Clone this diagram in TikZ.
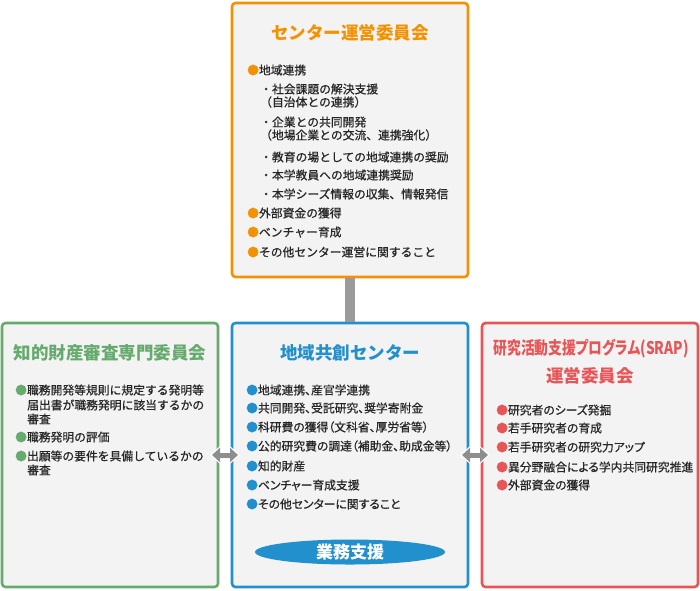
\documentclass[tikz,border=0pt]{standalone}
\usepackage{fontspec}
\usepackage{graphicx}
\setmainfont{Noto Sans CJK JP}
\newfontfamily\jpr[FakeBold=0.6]{Noto Sans CJK JP}
\newfontfamily\jpp[RawFeature=+palt,FakeBold=0.6]{Noto Sans CJK JP}
\newfontfamily\jpt[RawFeature=+palt]{Noto Sans CJK JP}
\usetikzlibrary{arrows.meta,shapes.geometric}
\definecolor{cOr}{HTML}{F39200}
\definecolor{cGr}{HTML}{66AA6E}
\definecolor{cBl}{HTML}{2290CC}
\definecolor{cRd}{HTML}{E85557}
\definecolor{cFill}{HTML}{F3F3F3}
\definecolor{cTxt}{HTML}{262626}
\definecolor{cArr}{HTML}{8E8E8E}
\definecolor{cBar}{HTML}{9A9A9A}
\tikzset{
  panel/.style={draw=#1, line width=2.6pt, fill=cFill, rounded corners=3.5pt, inner sep=0pt, outer sep=0pt},
  ttl/.style={text=#1, font=\fontsize{17.5}{20}\selectfont\bfseries, inner sep=0pt},
  item/.style={anchor=west, inner sep=0pt, text height=10.4pt, text depth=1.4pt, text=cTxt, font=\fontsize{11.8}{14}\selectfont\jpr},
  pitem/.style={item, font=\fontsize{11.8}{14}\selectfont\jpp},
  bar/.style={draw=cBar, line width=10pt, shorten <=1.3pt, shorten >=1.3pt},
  dbl/.style={draw=cArr, line width=5pt,
     {Triangle[length=8pt,width=14pt]}-{Triangle[length=8pt,width=14pt]},
     shorten <=-6pt, shorten >=-6pt,
     preaction={draw=white, line width=7.5pt,
       {Triangle[length=10.5pt,width=18pt]}-{Triangle[length=10.5pt,width=18pt]},
       shorten <=-8pt, shorten >=-8pt}},
  oval/.style={ellipse, fill=cBl, minimum width=190pt, minimum height=25pt, inner sep=0pt, text=white, font=\fontsize{17}{20}\selectfont\bfseries},
}
\newcommand{\bO}{\textcolor{cOr}{●}}
\newcommand{\bG}{\textcolor{cGr}{●}}
\newcommand{\bB}{\textcolor{cBl}{●}}
\newcommand{\bR}{\textcolor{cRd}{●}}
\begin{document}
\begin{tikzpicture}[x=1pt,y=-1pt]
\useasboundingbox (0,0) rectangle (700,590);
% panels
\node[panel=cOr, minimum width=236pt, minimum height=274pt] (top) at (350,140) {};
\node[panel=cGr, minimum width=216pt, minimum height=264pt] (lft) at (110,455) {};
\node[panel=cBl, minimum width=236pt, minimum height=264pt] (ctr) at (350,455) {};
\node[panel=cRd, minimum width=216pt, minimum height=264pt] (rgt) at (590,455) {};
% connectors
\draw[bar] (top.south) -- (ctr.north);
\draw[dbl] (lft.east) -- (ctr.west);
\draw[dbl] (ctr.east) -- (rgt.west);
% top panel
\node[ttl=cOr] (tT) at (350,33) {センター運営委員会};
\node[item] (t1) at (247,70) {\bO 地域連携};
\node[item] (t2) at (260,89) {・社会課題の解決支援};
\node[item] (t3) at (260,102) {（自治体との連携）};
\node[item] (t4) at (260,122) {・企業との共同開発};
\node[item] (t5) at (260,135) {（地場企業との交流、連携強化）};
\node[item] (t6) at (260,157) {・教育の場としての地域連携の奨励};
\node[item] (t7) at (260,175) {・本学教員への地域連携奨励};
\node[item] (t8) at (260,194) {・本学シーズ情報の収集、情報発信};
\node[item] (t9) at (247,213) {\bO 外部資金の獲得};
\node[item] (t10) at (247,232) {\bO ベンチャー育成};
\node[item] (t11) at (247,252) {\bO その他センター運営に関すること};
% left panel
\node[ttl=cGr] (lT) at (110,353) {知的財産審査専門委員会};
\node[item] (l1) at (15,390) {\bG 職務開発等規則に規定する発明等};
\node[item] (l1b) at (27,405) {届出書が職務発明に該当するかの};
\node[item] (l1c) at (27,419) {審査};
\node[item] (l2) at (15,437) {\bG 職務発明の評価};
\node[item] (l3) at (15,456) {\bG 出願等の要件を具備しているかの};
\node[item] (l3b) at (27,470) {審査};
% center panel
\node[ttl=cBl] (cT) at (350,353) {地域共創センター};
\node[pitem] (c1) at (246,390) {\bB 地域連携、産官学連携};
\node[pitem] (c2) at (246,408) {\bB 共同開発、受託研究、奨学寄附金};
\node[pitem] (c3) at (246,427) {\bB 科研費の獲得（文科省、厚労省等）};
\node[pitem] (c4) at (246,446) {\bB 公的研究費の調達（補助金、助成金等）};
\node[pitem] (c5) at (246,466) {\bB 知的財産};
\node[pitem] (c6) at (246,485) {\bB ベンチャー育成支援};
\node[pitem] (c7) at (246,504) {\bB その他センターに関すること};
\node[oval] (sup) at (350,552) {業務支援};
% right panel
\node[ttl=cRd] (rT1) at (591,349) {\resizebox{195pt}{\height}{\jpt\bfseries 研究活動支援プログラム(SRAP)}};
\node[ttl=cRd] (rT2) at (590,376) {運営委員会};
\node[pitem] (r1) at (496,410) {\bR 研究者のシーズ発掘};
\node[pitem] (r2) at (496,428) {\bR 若手研究者の育成};
\node[pitem] (r3) at (496,447) {\bR 若手研究者の研究力アップ};
\node[pitem] (r4) at (496,467) {\bR 異分野融合による学内共同研究推進};
\node[pitem] (r5) at (496,485) {\bR 外部資金の獲得};
\end{tikzpicture}
\end{document}
